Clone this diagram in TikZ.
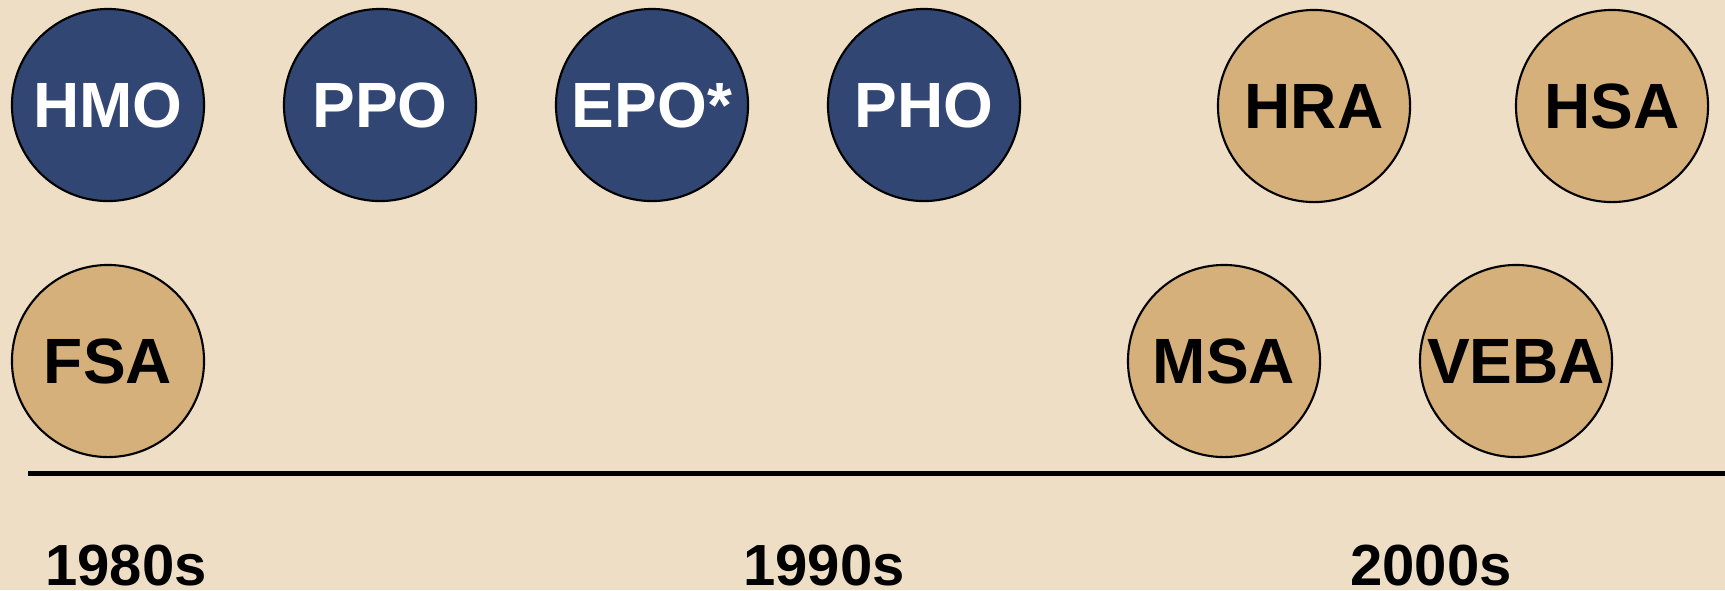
\documentclass[tikz,border=0pt]{standalone}
\usepackage{fontspec}
\setmainfont{Liberation Sans}
\definecolor{paper}{RGB}{238,222,197}
\definecolor{planblue}{RGB}{50,70,115}
\definecolor{acctan}{RGB}{214,176,123}
\begin{document}
\begin{tikzpicture}[x=0.01cm,y=-0.01cm,
	plan/.style={circle,draw=black,line width=0.6pt,fill=planblue,minimum size=1.92cm,inner sep=0pt,text=white,font=\fontsize{18.2}{20}\selectfont\bfseries},
	acct/.style={plan,fill=acctan,text=black},
	decade/.style={anchor=base,font=\fontsize{16.5}{18}\selectfont\bfseries}]
			\fill [paper] (0,0) rectangle (1725,590);
			\useasboundingbox (0,0) rectangle (1725,590);
			\node [plan] (hmo) at (108,105) {HMO};
			\node [plan] (ppo) at (380,105) {PPO};
			\node [plan] (epo) at (652,105) {EPO*};
			\node [plan] (pho) at (924,105) {PHO};
			\node [acct] (hra) at (1314,106) {HRA};
			\node [acct] (hsa) at (1612,106) {HSA};
			\node [acct] (fsa) at (108,361) {FSA};
			\node [acct] (msa) at (1224,361) {MSA};
			\node [acct] (veba) at (1516,361) {VEBA};
			\coordinate (axisL) at (28,473.5);
			\coordinate (axisR) at (1725,473.5);
			\draw [line width=1.4pt] (axisL)-- (axisR);
			\node [decade] (d80) at (126,585) {1980s};
			\node [decade] (d90) at (824,585) {1990s};
			\node [decade] (d00) at (1431,585) {2000s};
		\end{tikzpicture}
\end{document}
